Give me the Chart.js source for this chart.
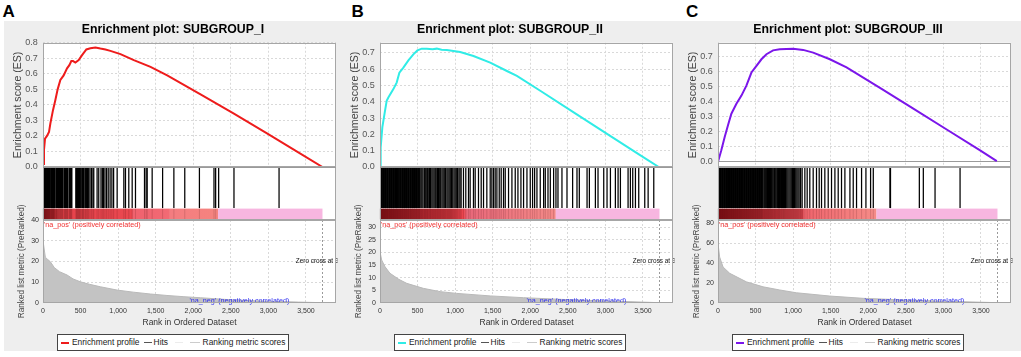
<!DOCTYPE html>
<html>
<head>
<meta charset="utf-8">
<script src="https://cdn.jsdelivr.net/npm/chart.js@4.4.0/dist/chart.umd.min.js"></script>
<style>
body { margin: 0; width: 1021px; height: 357px; position: relative; overflow: hidden; background: #fff; font-family: 'Liberation Sans', Arial, sans-serif; }
#bg { position: absolute; left: 4px; top: 21px; width: 1017px; height: 330px; background: #eeeeee; }
canvas { position: absolute; }
.letter { position: absolute; top: 3px; font-size: 17px; font-weight: bold; line-height: 17px; color: #000; }
.legend { position: absolute; top: 334px; width: 230px; height: 15px; background: #fff; border: 1px solid #444; font-size: 8.4px; color: #222; }
.legend span { position: absolute; }
.legend .sw { top: 7px; width: 8px; height: 1px; }
.legend .tx { top: 2px; line-height: 10px; white-space: nowrap; }
</style>
</head>
<body>
<div id="bg"></div>
<script>
const panelLetters = ['A', 'B', 'C'];
const plotTitles = ['Enrichment plot: SUBGROUP_I', 'Enrichment plot: SUBGROUP_II', 'Enrichment plot: SUBGROUP_III'];
const geneCount = 3720;   // list size, also where the metric crosses zero
const rankTicks = [0, 500, 1000, 1500, 2000, 2500, 3000, 3500];

// ---- A : SUBGROUP_I
const esRankA = [0, 13, 27, 53, 80, 98, 133, 164, 195, 231, 275, 320, 351, 377, 400, 431, 475, 520, 577, 631, 698, 764, 831, 897, 1031, 1209, 1431, 1653, 2097, 2541, 2987, 3431, 3720];
const esScoreA = [0.02, 0.108, 0.183, 0.2, 0.226, 0.28, 0.366, 0.43, 0.5, 0.56, 0.59, 0.635, 0.656, 0.682, 0.682, 0.673, 0.688, 0.72, 0.757, 0.764, 0.77, 0.763, 0.757, 0.748, 0.727, 0.688, 0.645, 0.59, 0.468, 0.343, 0.215, 0.085, 0];
const hitsA = [1, 7, 12, 19, 24, 31, 38, 42, 50, 57, 63, 70, 76, 84, 90, 97, 112, 118, 125, 133, 139, 146, 152, 171, 178, 183, 191, 197, 206, 211, 219, 226, 232, 240, 245, 253, 260, 266, 283, 289, 297, 304, 310, 318, 325, 331, 349, 356, 362, 370, 377, 384,
  437, 445, 452, 458, 466, 473, 481, 488, 494, 503, 517, 524, 531, 538, 546, 561, 569, 577, 591, 600, 609, 626, 646, 665, 676, 720, 742,
  772, 790, 806, 825, 846, 868, 893, 917, 940,
  987, 1076, 1098, 1142, 1187, 1231, 1351, 1373, 1387, 1453, 1592, 1742, 1887, 2082, 2276, 2298, 2338, 2542, 3142];
const metricRankA = [0, 10, 31, 60, 98, 150, 220, 320, 400, 498, 620, 764, 987, 1200, 1431, 1650, 1876, 2097, 2542, 2987, 3400, 3720];
const metricValueA = [30, 30, 22, 21, 19.8, 17, 15, 13.4, 11.5, 10.1, 8.9, 7.7, 6.1, 5.1, 4.2, 3.5, 2.9, 2.4, 1.3, 0.7, 0.3, 0];
const esTicksA = [0, 0.1, 0.2, 0.3, 0.4, 0.5, 0.6, 0.7, 0.8];
const metricTicksA = [0, 10, 20, 30, 40];
const barSplitA = 2330;
const barStopsA = [0, 160, 200, 1180, 1200, 1670, 1690, 2330];

// ---- B : SUBGROUP_II
const esRankB = [0, 9, 31, 67, 89, 111, 178, 222, 258, 311, 378, 444, 498, 556, 622, 700, 756, 820, 889, 978, 1067, 1244, 1467, 1689, 1822, 2133, 2578, 3022, 3467, 3711];
const esScoreB = [0, 0.12, 0.243, 0.345, 0.406, 0.426, 0.477, 0.517, 0.578, 0.609, 0.653, 0.69, 0.714, 0.725, 0.725, 0.722, 0.725, 0.718, 0.716, 0.71, 0.704, 0.68, 0.639, 0.588, 0.558, 0.467, 0.335, 0.203, 0.071, 0];
const hitsB = [1, 9, 18, 27, 36, 46, 55, 63, 72, 82, 91, 99, 108, 118, 127, 136, 144, 154, 163, 172, 181, 190, 199, 208, 218, 227, 235, 244, 254, 263, 271, 280, 290, 299, 307, 316, 326, 335, 343, 352, 362, 371, 379, 388, 398, 407, 415, 424, 434, 443, 451, 460, 470, 479, 487, 496, 506, 515, 523, 531,
  545, 558, 572, 590, 602, 615, 630, 642, 660, 672, 690, 705, 720, 735, 748, 765, 780, 795, 808, 825, 840, 855, 870, 890, 905, 920, 935, 950, 968, 985, 1000, 1015, 1030, 1050, 1065, 1080,
  1111, 1142, 1178, 1200, 1244, 1267, 1311, 1347, 1378, 1422, 1467, 1489, 1511, 1533, 1556, 1587, 1613, 1644, 1667, 1711, 1756, 1800, 1836, 1876, 1911, 1956, 2000, 2031, 2058, 2089, 2133, 2178, 2200, 2236, 2267, 2311, 2342,
  2369, 2422, 2489, 2564, 2622, 2653, 2756, 2787, 2867, 2902, 2978, 3022, 3067, 3133, 3169, 3200, 3302, 3333, 3364, 3400, 3444, 3524, 3569, 3644];
const metricRankB = [0, 22, 67, 133, 250, 356, 578, 800, 1022, 1467, 1911, 2578, 3244, 3720];
const metricValueB = [20.3, 17, 14.3, 11.7, 9.3, 7.7, 5.7, 4.4, 3.7, 2.7, 2.0, 1.1, 0.5, 0];
const esTicksB = [0, 0.1, 0.2, 0.3, 0.4, 0.5, 0.6, 0.7];
const metricTicksB = [0, 5, 10, 15, 20, 25, 30];
const barSplitB = 2340;
const barStopsB = [0, 500, 950, 1110, 1160, 2340];

// ---- C : SUBGROUP_III
const esRankC = [0, 44, 89, 133, 178, 245, 312, 378, 445, 512, 578, 645, 733, 822, 1000, 1133, 1267, 1489, 1711, 2156, 2600, 3044, 3489, 3711];
const esScoreC = [-0.005, 0.073, 0.162, 0.24, 0.318, 0.385, 0.44, 0.507, 0.595, 0.64, 0.684, 0.718, 0.744, 0.751, 0.755, 0.747, 0.729, 0.684, 0.629, 0.492, 0.352, 0.212, 0.072, 0];
const hitsC = [1, 9, 17, 26, 35, 43, 52, 60, 69, 78, 86, 95, 104, 112, 121, 129, 138, 147, 155, 164, 173, 181, 190, 198, 207, 216, 224, 233, 242, 250, 259, 267, 276, 285, 293, 302, 311, 319, 328, 336, 345, 354, 362, 371, 380, 388, 397, 405, 414, 423, 431, 440, 449, 457, 466, 474, 483, 492, 500, 509, 518, 526, 535, 543, 552, 561, 569, 578, 587, 595,
  610, 622, 635, 648, 660, 672, 685, 698, 710, 722, 735, 750, 762, 775, 790, 805, 818, 830, 845, 860, 872, 885, 900, 915, 930, 945, 960, 975, 990, 1005, 1020, 1035, 1050, 1065, 1080, 1100, 1120,
  1156, 1187, 1222, 1267, 1311, 1347, 1378, 1422, 1467, 1511, 1556, 1600, 1644, 1689, 1756, 1800, 1844, 1911, 1969, 2031, 2067, 2289, 2296, 2680, 2733, 2889, 3222];
const metricRankC = [0, 22, 67, 156, 378, 600, 822, 1044, 1489, 1933, 2600, 3267, 3720];
const metricValueC = [59.8, 46, 36, 29.6, 21, 16, 12.8, 10, 6.7, 4.4, 2.4, 1.0, 0];
const esTicksC = [0, 0.1, 0.2, 0.3, 0.4, 0.5, 0.6, 0.7];
const metricTicksC = [0, 20, 40, 60, 80];
const barSplitC = 2110;
const barStopsC = [0, 600, 1130, 1145, 2110];

// ---- styles
Chart.defaults.font.family = "'Liberation Sans', Arial, sans-serif";
Chart.defaults.animation = false;
Chart.defaults.plugins.legend.display = false;
Chart.defaults.plugins.tooltip.enabled = false;

const X_MAX = 3900;
const GRID = '#d9d9d9';
const PINK = '#f7b6e0';

const panels = [
  { ox: 0, letterX: 2.5, color: '#ee1c1c', esMin: 0, esMax: 0.8, metricMax: 40,
    esRank: esRankA, esScore: esScoreA, hits: hitsA, metricRank: metricRankA, metricValue: metricValueA,
    esTicks: esTicksA, metricTicks: metricTicksA, split: barSplitA, stops: barStopsA,
    stopColors: ['#951820', '#b82a30', '#e6424a', '#ea4850', '#f0626e', '#f26a74', '#f47c80', '#f5847f'] },
  { ox: 337, letterX: 351.5, color: '#30ece6', esMin: 0, esMax: 0.761, metricMax: 32.9,
    esRank: esRankB, esScore: esScoreB, hits: hitsB, metricRank: metricRankB, metricValue: metricValueB,
    esTicks: esTicksB, metricTicks: metricTicksB, split: barSplitB, stops: barStopsB,
    stopColors: ['#8a1218', '#b0262e', '#c8343c', '#ee4650', '#e9687a', '#f48a88'] },
  { ox: 675, letterX: 686, color: '#7b16ea', esMin: -0.04, esMax: 0.795, metricMax: 83.3,
    esRank: esRankC, esScore: esScoreC, hits: hitsC, metricRank: metricRankC, metricValue: metricValueC,
    esTicks: esTicksC, metricTicks: metricTicksC, split: barSplitC, stops: barStopsC,
    stopColors: ['#8a1218', '#b22a32', '#d0424a', '#f0646c', '#f58c88'] }
];

function makeCanvas(left, top, w, h) {
  const c = document.createElement('canvas');
  c.width = w; c.height = h;
  c.style.left = left + 'px'; c.style.top = top + 'px';
  document.body.appendChild(c);
  return c.getContext('2d');
}

function fixWidth(w) { return s => { s.width = w; s.paddingTop = 0; s.paddingBottom = 0; }; }
function fixHeight(h) { return s => { s.height = h; s.paddingLeft = 0; s.paddingRight = 0; }; }
function useTicks(list) { return s => { s.ticks = list.map(v => ({ value: v })); }; }

const isZero = c => c.tick && Math.abs(c.tick.value) < 1e-9;
const gridOpts = { color: c => isZero(c) ? '#9a9a9a' : GRID, drawTicks: false };
const borderOpts = { display: false, dash: c => isZero(c) ? [] : [2, 2] };

// white plot area + grey frame
const framePlugin = {
  id: 'frame',
  beforeDraw(chart) {
    const a = chart.chartArea, ctx = chart.ctx;
    ctx.save();
    ctx.fillStyle = '#fff';
    ctx.fillRect(a.left, a.top, a.right - a.left, a.bottom - a.top);
    ctx.restore();
  },
  afterDraw(chart) {
    const a = chart.chartArea, ctx = chart.ctx;
    ctx.save();
    ctx.strokeStyle = '#a6a6a6';
    ctx.lineWidth = 1;
    ctx.strokeRect(Math.round(a.left) + 0.5, Math.round(a.top) + 0.5, Math.round(a.right - a.left) - 1, Math.round(a.bottom - a.top) - 1);
    ctx.restore();
  }
};

function colorBar(p) {
  return {
    id: 'colorbar',
    beforeDatasetsDraw(chart) {
      const x = chart.scales.x, y = chart.scales.y, ctx = chart.ctx;
      const top = y.getPixelForValue(0.215), bot = y.getPixelForValue(0.012);
      const x0 = x.getPixelForValue(0), x1 = x.getPixelForValue(p.split), x2 = x.getPixelForValue(geneCount);
      const g = ctx.createLinearGradient(x0, 0, x1, 0);
      p.stops.forEach((r, i) => g.addColorStop(Math.min(1, r / p.split), p.stopColors[i]));
      ctx.save();
      ctx.fillStyle = g;
      ctx.fillRect(x0, top, x1 - x0, bot - top);
      ctx.fillStyle = PINK;
      ctx.fillRect(x1, top, x2 - x1, bot - top);
      // faint striations where the hits sit
      ctx.globalAlpha = 0.15;
      ctx.fillStyle = '#300000';
      p.hits.forEach(r => {
        if (r < p.split) ctx.fillRect(x.getPixelForValue(r) - 0.5, top, 1, bot - top);
      });
      ctx.restore();
    }
  };
}

function metricLabels(p) {
  return {
    id: 'metricLabels',
    afterDatasetsDraw(chart) {
      const a = chart.chartArea, ctx = chart.ctx, x = chart.scales.x, y = chart.scales.y;
      const zx = Math.round(x.getPixelForValue(geneCount)) + 0.5;
      ctx.save();
      ctx.strokeStyle = '#9a9a9a';
      ctx.setLineDash([2, 2]);
      ctx.beginPath();
      ctx.moveTo(zx, a.top); ctx.lineTo(zx, a.bottom);
      ctx.stroke();
      ctx.setLineDash([]);

      ctx.font = "7.2px 'Liberation Sans', Arial, sans-serif";
      ctx.textAlign = 'left';
      ctx.textBaseline = 'top';
      ctx.fillStyle = '#f03030';
      ctx.fillText("'na_pos' (positively correlated)", a.left + 1, a.top + 1.5);
      ctx.textBaseline = 'bottom';
      ctx.fillStyle = '#3030f0';
      ctx.fillText("'na_neg' (negatively correlated)", (a.left + a.right) / 2, a.bottom + 1.5);

      ctx.beginPath();
      ctx.rect(a.left, a.top, a.right - a.left + 1.5, a.bottom - a.top);
      ctx.clip();
      ctx.font = "6.4px 'Liberation Sans', Arial, sans-serif";
      ctx.fillStyle = '#111';
      ctx.textAlign = 'center';
      ctx.textBaseline = 'middle';
      ctx.fillText('Zero cross at ' + geneCount, x.getPixelForValue(geneCount), y.getPixelForValue(p.metricMax / 2));
      ctx.restore();
    }
  };
}

function drawHits(p, i) {
  new Chart(makeCanvas(p.ox, 167, 341, 53), {
    type: 'bar',
    data: { datasets: [{ data: p.hits.map(r => ({ x: r, y: [0.225, 0.985] })), backgroundColor: '#000', barThickness: 1.25, inflateAmount: 0, grouped: false }] },
    options: {
      responsive: false,
      layout: { padding: { left: 43, right: 5, top: 0, bottom: 0 } },
      scales: {
        x: { type: 'linear', min: 0, max: X_MAX, offset: false, display: false },
        y: { min: 0, max: 1, display: false }
      }
    },
    plugins: [framePlugin, colorBar(p)]
  });
}

function drawES(p, i) {
  new Chart(makeCanvas(p.ox, 21, 341, 154), {
    type: 'line',
    data: { datasets: [{ data: p.esRank.map((r, k) => ({ x: r, y: p.esScore[k] })), borderColor: p.color, borderWidth: 2, pointRadius: 0, fill: false }] },
    options: {
      responsive: false,
      layout: { padding: { left: 10, right: 5, top: 0, bottom: 0 } },
      plugins: {
        title: { display: true, text: plotTitles[i], color: '#000', font: { size: 12.3, weight: 'bold' }, padding: { top: 1.6, bottom: 5.4 } }
      },
      scales: {
        x: { type: 'linear', min: 0, max: X_MAX, ticks: { display: false }, afterBuildTicks: useTicks(rankTicks), afterFit: fixHeight(8), grid: gridOpts, border: borderOpts },
        y: { min: p.esMin, max: p.esMax, afterBuildTicks: useTicks(p.esTicks), afterFit: fixWidth(33),
          ticks: { callback: v => v.toFixed(1), color: '#555', font: { size: 9 }, padding: 5.3 },
          title: { display: true, text: 'Enrichment score (ES)', color: '#444', font: { size: 10.6 }, padding: { top: 1.6, bottom: 0 } },
          grid: gridOpts, border: borderOpts }
      }
    },
    plugins: [framePlugin]
  });
}

function drawMetric(p, i) {
  // canvas starts higher than the plot so the long rotated axis title is not cut
  new Chart(makeCanvas(p.ox, 198, 341, 134), {
    type: 'line',
    data: { datasets: [{ data: p.metricRank.map((r, k) => ({ x: r, y: p.metricValue[k] })), fill: 'origin', backgroundColor: '#c3c3c3', borderColor: '#b9b9b9', borderWidth: 1, pointRadius: 0 }] },
    options: {
      responsive: false,
      layout: { padding: { left: 10, right: 5, top: 22, bottom: 0 } },
      scales: {
        x: { type: 'linear', min: 0, max: X_MAX, afterBuildTicks: useTicks(rankTicks), afterFit: fixHeight(29.3),
          ticks: { callback: v => v.toLocaleString('en-US'), color: '#333', font: { size: 7 }, padding: 3.8, maxRotation: 0, autoSkip: false },
          title: { display: true, text: 'Rank in Ordered Dataset', color: '#333', font: { size: 8.5 }, padding: { top: 0, bottom: 3.9 } },
          grid: gridOpts, border: borderOpts },
        y: { min: 0, max: p.metricMax, afterBuildTicks: useTicks(p.metricTicks), afterFit: fixWidth(33),
          ticks: { color: '#333', font: { size: 7 }, padding: 4 },
          title: { display: true, text: 'Ranked list metric (PreRanked)', color: '#444', font: { size: 8.2 }, padding: { top: 6.9, bottom: 0 } },
          grid: gridOpts, border: borderOpts }
      }
    },
    plugins: [framePlugin, metricLabels(p)]
  });
}

function drawLegend(p) {
  const box = document.createElement('div');
  box.className = 'legend';
  box.style.left = (p.ox + 57) + 'px';
  box.innerHTML = `
    <span class="sw" style="left:3.3px;top:6.5px;height:2px;background:${p.color}"></span>
    <span class="tx" style="left:14px">Enrichment profile</span>
    <span class="sw" style="left:85.6px;top:6.5px;height:1.5px;background:#555"></span>
    <span class="tx" style="left:95.6px">Hits</span>
    <span class="sw" style="left:117.3px;background:#ececec"></span>
    <span class="sw" style="left:132.3px;width:10px;top:6.5px;height:1.5px;background:#cccccc"></span>
    <span class="tx" style="left:144.6px">Ranking metric scores</span>`;
  document.body.appendChild(box);
}

panels.forEach((p, i) => {
  drawHits(p, i);
  drawES(p, i);
  drawMetric(p, i);
  drawLegend(p);
  const l = document.createElement('div');
  l.className = 'letter';
  l.style.left = p.letterX + 'px';
  l.textContent = panelLetters[i];
  document.body.appendChild(l);
});
</script>
</body>
</html>
